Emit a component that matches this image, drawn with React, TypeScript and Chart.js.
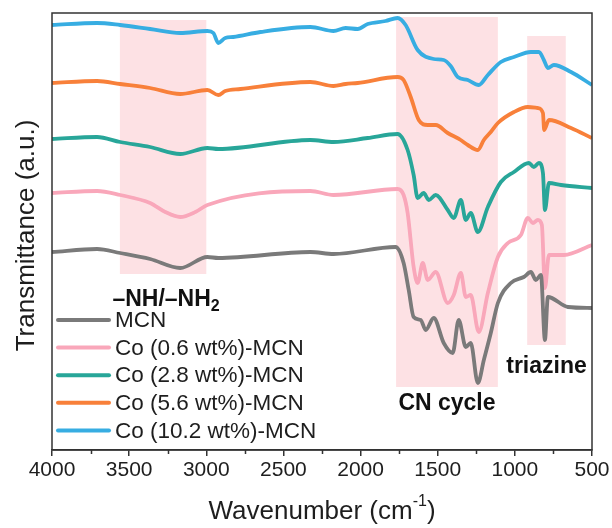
import React, { useEffect, useRef } from 'react';
import { Chart, registerables } from 'chart.js';

Chart.register(...registerables);

// FTIR spectra, transmittance in arbitrary units (curves are offset vertically)
const seriesLabels = ['MCN', 'Co (0.6 wt%)-MCN', 'Co (2.8 wt%)-MCN', 'Co (5.6 wt%)-MCN', 'Co (10.2 wt%)-MCN'];
const seriesColors = ['#7a7a7a', '#f9a7ba', '#28a699', '#f8803a', '#37ade2'];

const mcnWn = [4000, 3708, 3558, 3364, 3169, 2993, 2922, 2325, 2175, 1773, 1721, 1688, 1656, 1610, 1578, 1526, 1461, 1403, 1364, 1318, 1286, 1240, 1201, 1156, 1110, 1026, 942, 896, 864, 831, 805, 786, 656, 500];
const mcnT = [198, 201, 197, 191, 182, 193, 192, 198, 196, 203, 187, 160, 133, 130, 120, 132, 107, 97, 130, 103, 107, 67, 90, 117, 147, 167, 173, 178, 170, 175, 110, 153, 143, 142];

const co06Wn = [4000, 3708, 3558, 3364, 3266, 3169, 3071, 2993, 2325, 2175, 1760, 1721, 1695, 1656, 1630, 1597, 1565, 1513, 1435, 1396, 1350, 1318, 1286, 1234, 1175, 1110, 1045, 961, 916, 883, 851, 825, 805, 779, 682, 500];
const co06T = [257, 259, 255, 247, 238, 233, 238, 245, 259, 255, 261, 255, 237, 183, 167, 187, 170, 178, 147, 155, 177, 153, 155, 118, 157, 193, 207, 215, 232, 227, 230, 225, 162, 195, 195, 205];

const co28Wn = [4000, 3708, 3558, 3364, 3169, 2993, 2922, 2325, 2175, 1954, 1760, 1695, 1656, 1630, 1591, 1558, 1513, 1435, 1396, 1350, 1318, 1286, 1240, 1175, 1091, 1006, 909, 877, 844, 818, 805, 779, 701, 500];
const co28T = [311, 313, 308, 303, 296, 302, 301, 310, 308, 312, 316, 300, 275, 252, 257, 250, 255, 240, 232, 250, 230, 237, 218, 243, 268, 278, 287, 283, 287, 277, 240, 267, 265, 262];

const co56Wn = [4000, 3708, 3558, 3364, 3169, 2993, 2922, 2877, 2779, 2325, 2175, 2097, 2019, 1760, 1721, 1675, 1623, 1565, 1513, 1435, 1351, 1305, 1240, 1201, 1156, 1110, 1006, 916, 851, 818, 810, 779, 636, 500];
const co56T = [367, 369, 366, 362, 356, 360, 355, 359, 361, 368, 364, 366, 367, 373, 370, 353, 330, 325, 325, 317, 310, 305, 300, 310, 318, 327, 338, 343, 342, 337, 320, 330, 322, 312];

const co102Wn = [4000, 3708, 3558, 3364, 3169, 2993, 2954, 2922, 2877, 2825, 2649, 2325, 2175, 2097, 2019, 1954, 1838, 1760, 1708, 1630, 1526, 1461, 1416, 1370, 1305, 1234, 1175, 1091, 1006, 896, 844, 812, 786, 747, 636, 500];
const co102T = [425, 427, 425, 421, 417, 419, 417, 407, 412, 413, 418, 423, 419, 422, 421, 426, 429, 432, 425, 400, 391, 390, 384, 373, 370, 365, 375, 388, 393, 398, 398, 390, 382, 385, 378, 365];

const seriesWn = [mcnWn, co06Wn, co28Wn, co56Wn, co102Wn];
const seriesT = [mcnT, co06T, co28T, co56T, co102T];

// Highlighted absorption bands
const bandNames = ['–NH/–NH', 'CN cycle', 'triazine'];
const bandFrom = [3560, 1770, 920];
const bandTo = [3000, 1110, 670];
const bandTop = [430, 433, 414];
const bandBottom = [176, 63, 105];
const bandLabelY = [150, 46, 83];

const xMin = 500;
const xMax = 4000;
const yMin = 0;
const yMax = 437;

const FONT = 'Arial, "Liberation Sans", Helvetica, sans-serif';
const TEXT = '#1e1e1e';
const AXIS = '#333333';

const decorPlugin = {
  id: 'ftirDecor',
  beforeDatasetsDraw(chart: any) {
    const { ctx, scales } = chart;
    const x = scales.x;
    const y = scales.y;
    ctx.save();
    ctx.fillStyle = 'rgba(252, 214, 218, 0.72)';
    for (let i = 0; i < bandFrom.length; i++) {
      const x0 = x.getPixelForValue(bandFrom[i]);
      const x1 = x.getPixelForValue(bandTo[i]);
      const y0 = y.getPixelForValue(bandTop[i]);
      const y1 = y.getPixelForValue(bandBottom[i]);
      ctx.fillRect(x0, y0, x1 - x0, y1 - y0);
    }
    ctx.restore();
  },
  afterDraw(chart: any) {
    const { ctx, chartArea, scales } = chart;
    const x = scales.x;
    const y = scales.y;
    ctx.save();

    // frame
    ctx.strokeStyle = AXIS;
    ctx.lineWidth = 1.5;
    ctx.strokeRect(chartArea.left, chartArea.top, chartArea.right - chartArea.left, chartArea.bottom - chartArea.top);

    // minor ticks
    ctx.beginPath();
    for (let v = xMin + 250; v < xMax; v += 500) {
      const px = Math.round(x.getPixelForValue(v)) + 0.5;
      ctx.moveTo(px, chartArea.bottom);
      ctx.lineTo(px, chartArea.bottom + 4);
    }
    ctx.stroke();

    // y title
    ctx.fillStyle = TEXT;
    ctx.font = `26px ${FONT}`;
    ctx.textAlign = 'center';
    ctx.textBaseline = 'middle';
    ctx.save();
    ctx.translate(27, (chartArea.top + chartArea.bottom) / 2 + 4);
    ctx.rotate(-Math.PI / 2);
    ctx.fillText('Transmittance (a.u.)', 0, 0);
    ctx.restore();

    // x title with superscript
    const main = 'Wavenumber (cm';
    const sup = '-1';
    const tail = ')';
    ctx.font = `26px ${FONT}`;
    const wMain = ctx.measureText(main).width;
    const wTail = ctx.measureText(tail).width;
    ctx.font = `16px ${FONT}`;
    const wSup = ctx.measureText(sup).width;
    const cx = (chartArea.left + chartArea.right) / 2;
    let sx = cx - (wMain + wSup + wTail) / 2;
    const ty = 512;
    ctx.textAlign = 'left';
    ctx.textBaseline = 'middle';
    ctx.font = `26px ${FONT}`;
    ctx.fillText(main, sx, ty);
    sx += wMain;
    ctx.font = `16px ${FONT}`;
    ctx.fillText(sup, sx, ty - 10);
    sx += wSup;
    ctx.font = `26px ${FONT}`;
    ctx.fillText(tail, sx, ty);

    // band labels
    ctx.fillStyle = '#111';
    for (let i = 0; i < bandNames.length; i++) {
      const bx = (x.getPixelForValue(bandFrom[i]) + x.getPixelForValue(bandTo[i])) / 2;
      const by = y.getPixelForValue(bandLabelY[i]);
      ctx.font = `bold 23px ${FONT}`;
      if (i === 0) {
        const wBase = ctx.measureText(bandNames[i]).width;
        ctx.font = `bold 16px ${FONT}`;
        const wSub = ctx.measureText('2').width;
        const left = bx - (wBase + wSub) / 2 + 3;
        ctx.textAlign = 'left';
        ctx.font = `bold 23px ${FONT}`;
        ctx.fillText(bandNames[i], left, by);
        ctx.font = `bold 16px ${FONT}`;
        ctx.fillText('2', left + wBase, by + 7);
      } else {
        ctx.textAlign = 'center';
        ctx.fillText(bandNames[i], bx, by);
      }
    }

    // legend
    ctx.textAlign = 'left';
    ctx.textBaseline = 'middle';
    ctx.font = `22.5px ${FONT}`;
    chart.data.datasets.forEach((ds: any, i: number) => {
      const ly = 320 + i * 27.6;
      ctx.strokeStyle = ds.borderColor;
      ctx.lineWidth = 4;
      ctx.lineCap = 'round';
      ctx.beginPath();
      ctx.moveTo(58, ly);
      ctx.lineTo(109, ly);
      ctx.stroke();
      ctx.fillStyle = TEXT;
      ctx.fillText(ds.label, 115, ly + 1);
    });

    ctx.restore();
  },
};

export default function App() {
  const canvasRef = useRef<HTMLCanvasElement | null>(null);

  useEffect(() => {
    const canvas = canvasRef.current;
    if (!canvas) return;
    const datasets = seriesLabels.map((label, i) => ({
      label,
      data: seriesWn[i].map((wn, j) => ({ x: wn, y: seriesT[i][j] })),
      borderColor: seriesColors[i],
      backgroundColor: seriesColors[i],
      borderWidth: 3.8,
      pointRadius: 0,
      cubicInterpolationMode: 'monotone' as const,
      fill: false,
    }));

    const chart = new Chart(canvas, {
      type: 'line',
      data: { datasets },
      options: {
        responsive: false,
        animation: false,
        layout: { padding: { left: 52, top: 13, right: 20, bottom: 0 } },
        plugins: {
          legend: { display: false },
          tooltip: { enabled: false },
        },
        scales: {
          x: {
            type: 'linear',
            min: xMin,
            max: xMax,
            reverse: true,
            afterFit: (s: any) => {
              s.height = 78;
            },
            border: { display: true, color: AXIS, width: 1.5 },
            grid: {
              display: true,
              drawOnChartArea: false,
              drawTicks: true,
              tickLength: 6,
              color: AXIS,
              lineWidth: 1.5,
            },
            ticks: {
              stepSize: 500,
              autoSkip: false,
              maxRotation: 0,
              padding: 2,
              color: TEXT,
              font: { size: 21, family: FONT },
              callback: (v: any) => String(v),
            },
          },
          y: {
            display: false,
            min: yMin,
            max: yMax,
          },
        },
      },
      plugins: [decorPlugin],
    });

    return () => chart.destroy();
  }, []);

  return (
    <div style={{ position: 'absolute', left: 0, top: 0, width: 612, height: 528, background: '#fff' }}>
      <canvas ref={canvasRef} width={612} height={528} style={{ display: 'block' }} />
    </div>
  );
}
